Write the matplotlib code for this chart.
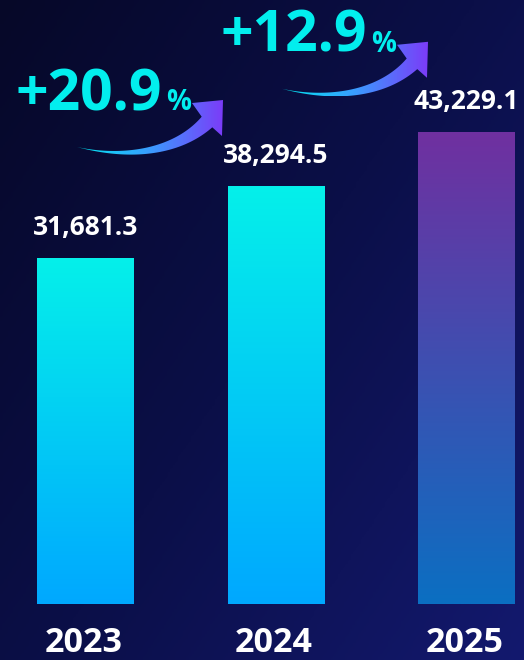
import numpy as np
import matplotlib
matplotlib.use("Agg")
import matplotlib.pyplot as plt
from matplotlib.colors import LinearSegmentedColormap
from matplotlib.patches import Polygon
from matplotlib import font_manager

bold_families = ['Open Sans', 'Roboto', 'Lato', 'Noto Sans', 'DejaVu Sans']
names = {(f.name, f.weight) for f in font_manager.fontManager.ttflist}
family = next((fam for fam in bold_families
               if any(n == fam and (w == 'bold' or w == 700) for n, w in names)), 'DejaVu Sans')
plt.rcParams['font.family'] = [family, 'DejaVu Sans']

# data
years = ['2023', '2024', '2025']
values = [31681.3, 38294.5, 43229.1]
bar_top_colors = ['#05F0EA', '#05F0EA', '#7030A0']
bar_bottom_colors = ['#00A8FF', '#00A8FF', '#0B6FC2']
growth = [f'+{(values[i + 1] / values[i] - 1) * 100:.1f}' for i in range(len(values) - 1)]

# layout (pixels)
ARROW_TAIL_OFFSETS = [(-8.5, 111), (6, 97)]   # tail relative to top centre of bar i
CYAN = '#02EEEE'

fig = plt.figure(figsize=(5.24, 6.6), dpi=100)

# background diagonal gradient
bg = fig.add_axes([0, 0, 1, 1])
bg.axis('off')
yy, xx = np.mgrid[0:1:200j, 0:1:200j]
bg_cmap = LinearSegmentedColormap.from_list('bg', ['#060828', '#0B0F48', '#13196E'])
bg.imshow(0.55 * xx + 0.45 * yy, cmap=bg_cmap, aspect='auto', origin='upper',
          extent=[0, 1, 0, 1], vmin=0, vmax=1)

ax = fig.add_axes([0, 0, 1, 1])
ax.patch.set_alpha(0)
ax.axis('off')
x = np.arange(len(years))

bars = ax.bar(x, values, width=0.509, facecolor='none', edgecolor='none')
grad = np.linspace(0, 1, 256).reshape(-1, 1)
for b, top, bot in zip(bars, bar_top_colors, bar_bottom_colors):
    cmap = LinearSegmentedColormap.from_list('bar', [top, bot])
    im = ax.imshow(grad, cmap=cmap, aspect='auto', origin='upper', zorder=2,
                   extent=[b.get_x(), b.get_x() + b.get_width(), 0, b.get_height()])
    im.set_clip_path(b)

ax.set_xlim(-0.4488, 2.3018)
ax.set_ylim(-5128, 55308)

for xi, v, yr in zip(x, values, years):
    ax.annotate(f'{v:,.1f}', (xi, v), xytext=(0, 16.5), textcoords='offset points',
                ha='center', va='baseline', color='white', fontsize=19, fontweight='bold')
    ax.annotate(yr, (xi, 0), xytext=(-1.5, -34.5), textcoords='offset points',
                ha='center', va='baseline', color='white', fontsize=24.5, fontweight='bold')

# curved growth arrows
def arrow_shape():
    p0, p1, p2, p3 = map(np.array, [(0, 0), (50, -12), (100, -5), (130, 25)])
    t = np.linspace(0, 1, 60)[:, None]
    pts = (1 - t) ** 3 * p0 + 3 * (1 - t) ** 2 * t * p1 + 3 * (1 - t) * t ** 2 * p2 + t ** 3 * p3
    d = -3 * (1 - t) ** 2 * p0 + 3 * (1 - 4 * t + 3 * t ** 2) * p1 + 3 * (2 * t - 3 * t ** 2) * p2 + 3 * t ** 2 * p3
    d = d / np.linalg.norm(d, axis=1, keepdims=True)
    n = np.column_stack([-d[:, 1], d[:, 0]])
    w = 7.5 * t[:, 0] ** 1.2
    upper = pts + n * w[:, None]
    lower = pts - n * w[:, None]
    head = np.array([(115, 44), (146, 47), (145, 11)])
    return np.vstack([upper, head, lower[::-1]])

arrow_cmap = LinearSegmentedColormap.from_list('arr', ['#00E8F0', '#3A9CFF', '#7B3CF8'])
shape = arrow_shape()
for i, lab in enumerate(growth):
    tail = ax.transData.transform((x[i], values[i])) + np.array(ARROW_TAIL_OFFSETS[i])
    poly_data = ax.transData.inverted().transform(shape + tail)
    poly = Polygon(poly_data, closed=True, facecolor='none', edgecolor='none')
    ax.add_patch(poly)
    x0, y0 = poly_data.min(axis=0)
    x1, y1 = poly_data.max(axis=0)
    im = ax.imshow(np.linspace(0, 1, 256).reshape(1, -1), cmap=arrow_cmap, aspect='auto',
                   extent=[x0, x1, y0, y1], zorder=3)
    im.set_clip_path(poly)
    tail_data = ax.transData.inverted().transform(tail)
    ax.annotate(lab, tail_data, xytext=(-44.6, 26.6), textcoords='offset points',
                ha='left', va='baseline', color=CYAN, fontsize=41, fontweight='bold')
    ax.annotate('%', tail_data, xytext=(64.0, 26.6), textcoords='offset points',
                ha='left', va='baseline', color=CYAN, fontsize=20, fontweight='bold')

ax.set_xlim(-0.4488, 2.3018)
ax.set_ylim(-5128, 55308)

fig.savefig('out.png', dpi=100)
